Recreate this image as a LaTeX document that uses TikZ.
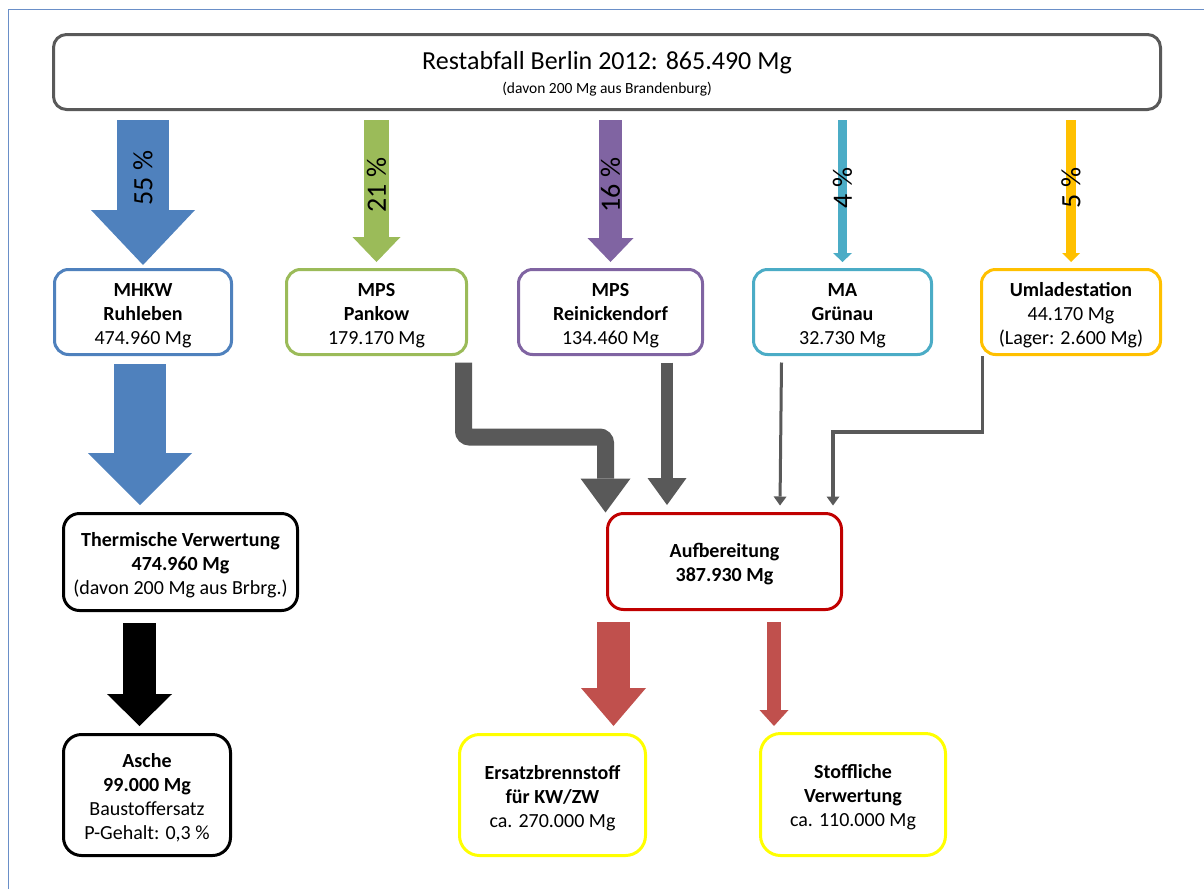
\documentclass[tikz,border=0pt]{standalone}
\usepackage{fontspec}
\setmainfont{Carlito}
\usepackage{xcolor}
\usepackage{tikz}
\usetikzlibrary{arrows.meta,calc}

\definecolor{rahmen}{RGB}{106,143,200}
\definecolor{grau}{RGB}{89,89,89}
\definecolor{blau}{RGB}{79,129,189}
\definecolor{gruen}{RGB}{155,187,89}
\definecolor{lila}{RGB}{128,100,162}
\definecolor{tuerkis}{RGB}{75,172,198}
\definecolor{umladegelb}{RGB}{255,192,0}
\definecolor{dunkelrot}{RGB}{192,0,0}
\definecolor{rot}{RGB}{192,80,77}
\definecolor{gelb}{RGB}{255,255,0}

% first line a bit taller, text sits lower in the box
\newcommand{\hoch}[1][19.5pt]{\rule{0pt}{#1}}

\tikzset{
  kasten/.style={draw=#1, fill=white, line width=3, rounded corners=14, inner sep=0, outer sep=0,
    align=center, font=\fontsize{20}{24}\selectfont},
  pfeil/.style n args={4}{draw=#1, line width=#2, -{Triangle[width=#3, length=#4, line width=0pt]}},
  prozent/.style={rotate=90, font=\fontsize{28}{34}\selectfont, inner sep=0},
}

\begin{document}
\begin{tikzpicture}[x=1pt,y=-1pt]
\useasboundingbox (0,0) rectangle (1204,889);

%Frame
\draw[rahmen, line width=1.5] (8.5,889) -- (8.5,9.5) -- (1204,9.5);

% Text Node
\node[kasten=grau, rounded corners=13, minimum width=1107, minimum height=75,
  font=\fontsize{15.5}{24}\selectfont] (top) at (607,72)
  {\hoch[22pt]{\fontsize{26}{31}\selectfont Restabfall Berlin 2012: 865.490 Mg}\\(davon 200 Mg aus Brandenburg)};
% Text Node
\node[kasten=blau, minimum width=177, minimum height=85] (mhkw) at (143,312)
  {\hoch\textbf{MHKW}\\\textbf{Ruhleben}\\474.960 Mg};
% Text Node
\node[kasten=gruen, minimum width=180, minimum height=85] (pankow) at (376.5,312)
  {\hoch\textbf{MPS}\\\textbf{Pankow}\\179.170 Mg};
% Text Node
\node[kasten=lila, minimum width=184, minimum height=85] (reinick) at (610.5,312)
  {\hoch\textbf{MPS}\\\textbf{Reinickendorf}\\134.460 Mg};
% Text Node
\node[kasten=tuerkis, minimum width=178, minimum height=85] (gruenau) at (842.5,312)
  {\hoch\textbf{MA}\\\textbf{Grünau}\\32.730 Mg};
% Text Node
\node[kasten=umladegelb, minimum width=179, minimum height=85] (umlade) at (1071,312)
  {\hoch\textbf{Umladestation}\\44.170 Mg\\(Lager: 2.600 Mg)};
% Text Node
\node[kasten=black, rounded corners=16, minimum width=234, minimum height=97] (therm) at (180.5,562)
  {\hoch\textbf{Thermische Verwertung}\\\textbf{474.960 Mg}\\(davon 200 Mg aus Brbrg.)};
% Text Node
\node[kasten=black, rounded corners=18, minimum width=167, minimum height=121] (asche) at (147,795)
  {\hoch\textbf{Asche}\\\textbf{99.000 Mg}\\Baustoffersatz\\P-Gehalt: 0,3 \%};
% Text Node
\node[kasten=dunkelrot, rounded corners=16, minimum width=234, minimum height=96] (aufb) at (724.5,561.5)
  {\hoch\textbf{Aufbereitung}\\\textbf{387.930 Mg}};
% Text Node
\node[kasten=gelb, rounded corners=20, minimum width=186, minimum height=121] (ersatz) at (552.5,795)
  {\hoch\textbf{Ersatzbrennstoff}\\\textbf{für KW/ZW}\\ca. 270.000 Mg};
% Text Node
\node[kasten=gelb, rounded corners=20, minimum width=185, minimum height=122] (stoff) at (853,794.5)
  {\hoch\textbf{Stoffliche}\\\textbf{Verwertung}\\ca. 110.000 Mg};

%Block Arrows
\draw[pfeil={blau}{52}{104}{55}] ($(top.south -| mhkw.north)+(0,10.5)$)
  -- node[prozent, pos=.4] {55 \%} ($(mhkw.north)+(0,-4.5)$);
\draw[pfeil={gruen}{25}{48}{25}] ($(top.south -| pankow.north)+(0,10.5)$)
  -- node[prozent, pos=.46] {21 \%} ($(pankow.north)+(0,-7.5)$);
\draw[pfeil={lila}{23}{46}{24}] ($(top.south -| reinick.north)+(0,10.5)$)
  -- node[prozent, pos=.46] {16 \%} ($(reinick.north)+(0,-7.5)$);
\draw[pfeil={tuerkis}{9}{19}{9}] ($(top.south -| gruenau.north)+(0,10.5)$)
  -- node[prozent, pos=.48] {4 \%} ($(gruenau.north)+(0,-7.5)$);
\draw[pfeil={umladegelb}{10}{18}{9}] ($(top.south -| umlade.north)+(0,10.5)$)
  -- node[prozent, pos=.48] {5 \%} ($(umlade.north)+(0,-7.5)$);

\draw[pfeil={blau}{52}{104}{52}] ($(mhkw.south)+(-3,9.5)$) -- ($(therm.north)+(-40.5,-8.5)$);
\draw[pfeil={black}{33}{65}{32}] ($(therm.south)+(-41,12.5)$) -- ($(asche.north)+(-7.5,-8.5)$);

%Grey Arrows
\draw[pfeil={grau}{17}{50}{34}, rounded corners=6] ($(pankow.south east)+(-3,8)$) -- ++(0,74.5)
  -| ($(aufb.north west)+(-2,-1)$);
\draw[pfeil={grau}{12}{39}{27}] ($(reinick.south east)+(-35.5,8)$) -- ($(aufb.north west)+(59.5,-8.5)$);
\draw[pfeil={grau}{3}{13}{9}] ($(gruenau.south west)+(28,8)$) -- ($(aufb.north)+(55.5,-8)$);
\draw[pfeil={grau}{3.5}{13}{9}] ($(umlade.south west)+(1,1.5)$) -- ++(0,76)
  -| ($(aufb.north)+(108.5,-8)$);

%Red Arrows
\draw[pfeil={rot}{33}{65}{38}] ($(aufb.south west)+(6,12.5)$) -- ($(ersatz.north)+(61,-8.5)$);
\draw[pfeil={rot}{14}{29}{16}] ($(aufb.south east)+(-67.5,12.5)$) -- ($(stoff.north)+(-79,-7.5)$);

\end{tikzpicture}
\end{document}
